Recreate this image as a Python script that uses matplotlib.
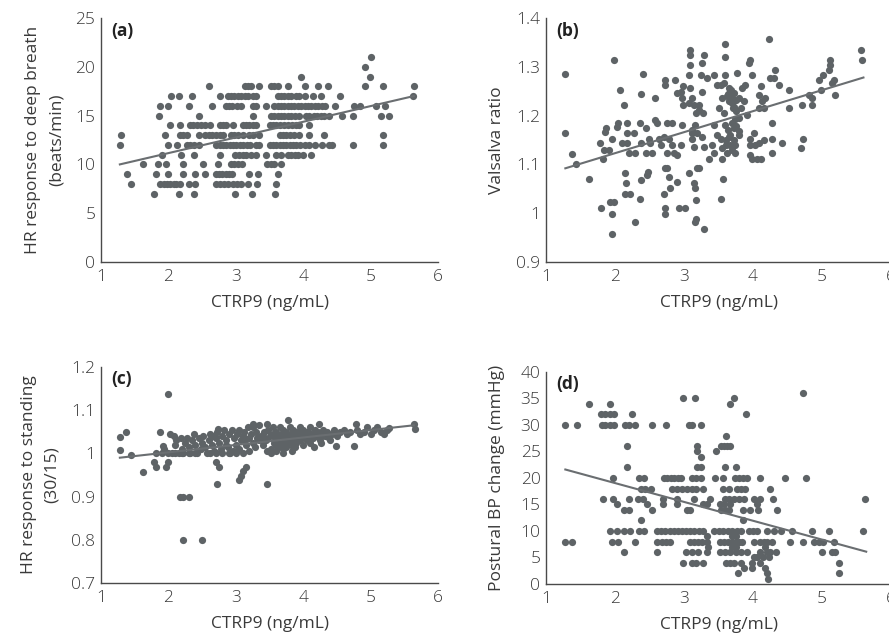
import numpy as np
import matplotlib
matplotlib.use("Agg")
import matplotlib.pyplot as plt
from matplotlib.ticker import FuncFormatter

plt.rcParams["font.family"] = ["Open Sans", "DejaVu Sans"]
plt.rcParams["font.weight"] = "light"

# (a) HR response to deep breath: integer y levels, x positions per level
a_levels = [21, 20, 19, 18, 17, 16, 15, 14, 13, 12, 11, 10, 9, 8, 7]
a_x_by_level = [
    [5.0],
    [4.92],
    [3.97, 4.99],
    [2.6, 3.13, 3.18, 3.23, 3.35, 3.52, 3.57, 3.63, 3.78, 4.03, 4.22, 4.37, 4.91, 5.19, 5.64],
    [2.04, 2.16, 2.35, 2.76, 2.88, 2.93, 2.98, 3.03, 3.08, 3.13, 3.18, 3.25, 3.3, 3.62, 3.67,
     3.72, 3.77, 3.82, 3.89, 3.94, 4.03, 4.14, 4.27, 4.54, 5.63],
    [1.87, 1.99, 2.3, 2.65, 2.85, 2.9, 2.95, 3.02, 3.08, 3.25, 3.3, 3.45, 3.57, 3.62, 3.67,
     3.72, 3.77, 3.82, 3.87, 3.92, 3.97, 4.02, 4.07, 4.12, 4.17, 4.22, 4.28, 4.33, 4.47, 4.76,
     4.85, 5.08, 5.22],
    [1.86, 2.46, 3.26, 3.52, 3.57, 3.62, 3.67, 3.72, 3.77, 3.82, 3.88, 3.94, 4.04, 4.09, 4.16,
     4.21, 4.26, 4.31, 4.38, 4.57, 4.74, 5.15, 5.27],
    [2.02, 2.17, 2.32, 2.37, 2.42, 2.48, 2.55, 2.61, 2.76, 2.81, 2.86, 2.96, 3.1, 3.15, 3.2,
     3.25, 3.3, 3.5, 3.55, 3.6, 3.66, 3.72, 3.78, 3.84, 3.89, 3.94, 4.09],
    [1.29, 1.95, 2.17, 2.22, 2.27, 2.46, 2.55, 2.6, 2.65, 2.7, 2.76, 2.81, 2.93, 2.98, 3.04,
     3.1, 3.2, 3.26, 3.35, 3.65, 3.7, 3.75, 3.8, 3.86, 3.94, 4.09, 4.31, 5.19],
    [1.28, 1.99, 2.13, 2.27, 2.32, 2.38, 2.46, 2.71, 2.76, 2.81, 2.86, 2.91, 2.96, 3.01, 3.06,
     3.11, 3.16, 3.21, 3.3, 3.35, 3.5, 3.55, 3.6, 3.65, 3.7, 3.75, 3.8, 3.85, 3.9, 3.95, 4.03,
     4.08, 4.18, 4.28, 4.38, 4.43, 4.74, 5.18],
    [1.91, 2.19, 2.38, 2.76, 2.99, 3.05, 3.1, 3.15, 3.22, 3.3, 3.45, 3.6, 3.67, 3.77, 3.82,
     3.88, 3.93, 3.99, 4.11],
    [1.63, 1.84, 1.97, 2.22, 2.51, 2.73, 2.93, 2.98, 3.03, 3.09, 3.47, 3.52, 3.57, 3.67],
    [1.38, 1.81, 1.99, 2.21, 2.39, 2.54, 2.7, 2.75, 2.8, 2.85, 2.9, 2.95, 3.2, 3.33, 3.62],
    [1.44, 1.88, 1.93, 1.98, 2.03, 2.08, 2.12, 2.17, 2.3, 2.39, 2.71, 2.76, 2.82, 2.88, 2.96,
     3.02, 3.08, 3.18, 3.32, 3.6],
    [1.79, 2.15, 2.38, 2.99, 3.24, 3.58],
]
a_fit_x = [1.28, 5.64]
a_fit_y = [10.0, 17.0]

# (b) Valsalva ratio, (CTRP9, ratio) pairs
b_points = [
    (1.28, 1.285), (1.28, 1.164), (1.38, 1.122), (1.44, 1.100), (1.62, 1.071), (1.79, 1.010),
    (1.78, 1.143), (1.84, 1.130), (1.83, 1.112), (1.86, 1.167), (1.87, 1.174), (1.93, 1.023),
    (1.96, 0.999), (1.96, 0.958), (1.98, 1.023), (1.98, 1.314), (1.96, 1.153), (1.91, 1.130),
    (2.03, 1.177), (2.04, 1.184), (2.07, 1.253), (2.13, 1.222), (2.10, 1.143), (2.14, 1.082),
    (2.16, 1.061), (2.15, 1.040), (2.22, 1.040), (2.18, 1.164), (2.18, 1.184), (2.18, 1.143),
    (2.20, 1.123), (2.29, 1.123), (2.27, 1.164), (2.29, 0.982), (2.36, 1.030), (2.37, 1.068),
    (2.36, 1.184), (2.37, 1.244), (2.41, 1.285), (2.38, 1.143), (2.45, 1.174), (2.46, 1.078),
    (2.48, 1.085), (2.45, 1.123), (2.49, 1.153), (2.54, 1.123), (2.51, 1.143), (2.58, 1.236),
    (2.58, 1.191), (2.61, 1.184), (2.63, 1.153), (2.66, 1.140), (2.71, 1.157), (2.71, 1.040),
    (2.73, 1.092), (2.73, 1.010), (2.73, 0.999), (2.73, 1.273), (2.73, 1.263), (2.75, 1.184),
    (2.75, 1.123), (2.78, 1.153), (2.75, 1.092), (2.80, 1.051), (2.78, 1.075), (2.83, 1.184),
    (2.83, 1.140), (2.85, 1.123), (2.90, 1.064), (2.87, 1.273), (2.90, 1.119), (2.92, 1.010),
    (2.95, 1.249), (2.90, 1.246), (2.99, 1.260), (2.97, 1.181), (2.95, 1.140), (2.97, 1.236),
    (2.99, 1.222), (3.02, 1.010), (3.07, 1.082), (3.09, 1.335), (3.09, 1.325), (3.08, 1.304),
    (3.07, 1.284), (3.09, 1.256), (3.07, 1.225), (3.12, 1.236), (3.12, 1.153), (3.11, 1.164),
    (3.14, 1.136), (3.14, 1.061), (3.16, 1.051), (3.18, 1.027), (3.18, 0.989), (3.16, 0.982),
    (3.19, 1.092), (3.21, 1.092), (3.16, 1.181), (3.19, 1.164), (3.21, 1.222), (3.14, 1.222),
    (3.24, 1.284), (3.26, 1.249), (3.26, 1.308), (3.29, 1.325), (3.29, 0.968), (3.29, 1.136),
    (3.26, 1.157), (3.33, 1.277), (3.36, 1.112), (3.43, 1.284), (3.41, 1.140), (3.43, 1.123),
    (3.48, 1.160), (3.48, 1.263), (3.50, 1.215), (3.53, 1.030), (3.57, 1.071), (3.55, 1.133),
    (3.55, 1.112), (3.53, 1.153), (3.53, 1.263), (3.59, 1.321), (3.60, 1.347), (3.59, 1.284),
    (3.55, 1.236), (3.60, 1.181), (3.61, 1.140), (3.62, 1.123), (3.65, 1.157), (3.65, 1.229),
    (3.65, 1.256), (3.67, 1.249), (3.69, 1.236), (3.72, 1.246), (3.72, 1.218), (3.74, 1.194),
    (3.72, 1.174), (3.72, 1.150), (3.74, 1.140), (3.74, 1.123), (3.77, 1.287), (3.79, 1.160),
    (3.79, 1.236), (3.82, 1.215), (3.84, 1.256), (3.87, 1.229), (3.89, 1.263), (3.91, 1.201),
    (3.94, 1.308), (3.96, 1.314), (3.99, 1.284), (3.96, 1.153), (3.96, 1.140), (3.96, 1.119),
    (3.99, 1.112), (4.01, 1.164), (4.03, 1.140), (4.06, 1.112), (4.08, 1.215), (4.08, 1.243),
    (4.11, 1.260), (4.08, 1.143), (4.11, 1.112), (4.13, 1.229), (4.16, 1.215), (4.16, 1.150),
    (4.18, 1.236), (4.23, 1.356), (4.25, 1.277), (4.27, 1.184), (4.27, 1.153), (4.27, 1.123),
    (4.30, 1.277), (4.32, 1.294), (4.37, 1.263), (4.42, 1.143), (4.52, 1.253), (4.52, 1.215),
    (4.69, 1.133), (4.71, 1.222), (4.73, 1.153), (4.81, 1.243), (4.86, 1.236), (4.86, 1.222),
    (4.95, 1.273), (4.98, 1.253), (5.02, 1.284), (5.10, 1.294), (5.11, 1.314), (5.12, 1.304),
    (5.14, 1.267), (5.17, 1.273), (5.19, 1.243), (5.57, 1.335), (5.58, 1.314),
    (3.62, 1.240), (3.66, 1.230), (3.70, 1.225), (3.68, 1.252), (3.64, 1.244), (3.71, 1.215),
    (3.76, 1.232), (3.58, 1.205), (3.63, 1.170), (3.69, 1.185), (3.75, 1.178), (3.67, 1.160),
    (3.80, 1.195), (3.18, 1.205), (3.22, 1.212), (3.28, 1.205), (3.12, 1.170), (3.44, 1.180),
    (3.58, 1.266), (3.66, 1.140), (3.70, 1.130), (3.61, 1.150), (3.76, 1.210), (3.80, 1.168),
]
b_fit_x = [1.28, 5.6]
b_fit_y = [1.092, 1.278]

# (c) HR response to standing (30/15), (CTRP9, ratio) pairs
c_points = [
    (1.99, 1.137), (1.28, 1.008), (1.28, 1.038), (1.37, 1.049), (1.44, 0.996), (1.63, 0.957),
    (1.79, 0.979), (1.81, 0.969), (1.97, 0.968), (1.99, 0.979), (1.87, 1.049), (1.92, 1.017),
    (1.94, 1.010), (2.17, 0.900), (2.21, 0.900), (2.31, 0.900), (2.21, 0.799), (2.50, 0.799),
    (2.72, 0.929), (2.71, 0.979), (2.75, 0.968), (3.05, 0.938), (3.08, 0.947), (3.11, 0.959),
    (3.15, 0.968), (3.47, 0.929), (4.48, 1.017), (4.75, 1.017), (3.78, 1.078), (4.78, 1.068),
    (5.64, 1.068), (5.66, 1.057), (3.25, 1.068), (3.47, 1.068), (4.24, 1.068), (2.73, 1.057),
    (1.82, 1.0), (1.90, 1.0), (2.00, 1.0), (2.10, 1.0), (2.20, 1.0), (2.30, 1.0), (2.40, 1.0),
    (2.61, 1.0), (2.70, 1.0), (2.80, 1.0), (2.90, 1.0), (3.00, 1.0), (3.10, 1.0),
    (2.02, 1.045), (2.08, 1.040), (2.05, 1.000), (2.10, 1.020), (2.12, 1.030), (2.15, 1.000),
    (2.18, 1.035), (2.20, 1.010), (2.22, 1.000), (2.25, 1.025), (2.28, 1.035), (2.30, 1.015),
    (2.32, 1.000), (2.35, 1.030), (2.38, 1.045), (2.40, 1.020), (2.42, 1.000), (2.45, 1.035),
    (2.48, 1.010), (2.50, 1.025), (2.52, 1.040), (2.55, 1.015), (2.58, 1.000), (2.60, 1.030),
    (2.62, 1.045), (2.65, 1.020), (2.68, 1.005), (2.70, 1.035), (2.72, 1.050), (2.75, 1.025),
    (2.78, 1.010), (2.80, 1.040), (2.82, 1.055), (2.85, 1.030), (2.88, 1.015), (2.90, 1.045),
    (2.92, 1.000), (2.95, 1.055), (2.97, 1.035), (3.00, 1.020), (3.02, 1.045), (3.05, 1.055),
    (3.05, 1.010), (3.08, 1.030), (3.10, 1.040), (3.12, 1.050), (3.15, 1.020), (3.18, 1.060),
    (3.20, 1.035), (3.22, 1.045), (3.25, 1.025), (3.25, 1.060), (3.28, 1.015), (3.30, 1.050),
    (3.32, 1.035), (3.35, 1.065), (3.38, 1.040), (3.40, 1.020), (3.42, 1.050), (3.45, 1.030),
    (3.48, 1.055), (3.50, 1.040), (3.52, 1.010), (3.55, 1.045), (3.55, 1.060), (3.58, 1.030),
    (3.60, 1.050), (3.60, 1.020), (3.62, 1.040), (3.65, 1.060), (3.65, 1.030), (3.68, 1.045),
    (3.70, 1.010), (3.70, 1.055), (3.72, 1.035), (3.75, 1.050), (3.75, 1.020), (3.78, 1.040),
    (3.80, 1.060), (3.80, 1.030), (3.82, 1.045), (3.85, 1.015), (3.85, 1.055), (3.88, 1.035),
    (3.90, 1.050), (3.90, 1.025), (3.92, 1.040), (3.95, 1.060), (3.95, 1.030), (3.98, 1.045),
    (4.00, 1.020), (4.00, 1.055), (4.03, 1.035), (4.05, 1.050), (4.08, 1.040), (4.10, 1.060),
    (4.10, 1.025), (4.12, 1.045), (4.15, 1.035), (4.18, 1.055), (4.20, 1.040), (4.22, 1.050),
    (4.25, 1.030), (4.28, 1.045), (4.30, 1.055), (4.32, 1.040), (4.35, 1.050), (4.38, 1.035),
    (4.42, 1.045), (4.45, 1.055), (4.50, 1.040), (4.55, 1.050), (4.60, 1.055), (4.65, 1.045),
    (4.70, 1.050), (4.80, 1.055), (4.85, 1.045), (4.90, 1.050), (4.95, 1.060), (5.00, 1.045),
    (5.05, 1.055), (5.10, 1.060), (5.15, 1.050), (5.20, 1.045), (5.25, 1.055), (5.28, 1.058),
    (3.56, 1.025), (3.62, 1.015), (3.68, 1.025), (3.74, 1.015), (3.82, 1.025), (3.88, 1.015),
    (3.58, 1.040), (3.66, 1.035), (3.72, 1.045), (3.78, 1.030), (3.86, 1.040), (3.94, 1.050),
    (3.52, 1.000), (3.60, 1.005), (3.70, 1.000), (3.84, 1.005), (3.40, 1.040), (3.46, 1.005),
    (3.34, 1.030), (3.14, 1.030), (3.20, 1.005), (2.86, 1.020), (2.96, 1.005), (2.66, 1.040),
    (4.06, 1.030), (4.16, 1.015), (4.26, 1.025), (4.40, 1.030),
]
c_fit_x = [1.28, 5.64]
c_fit_y = [0.990, 1.065]

# (d) Postural BP change (mmHg): y levels, x positions per level
d_levels = [36, 35, 34, 32, 30, 28, 26, 25, 24, 22, 20, 18, 16, 15, 14, 12, 10, 9, 8, 7,
            6, 5, 4, 3, 2, 1]
d_x_by_level = [
    [4.72],
    [2.99, 3.16, 3.72],
    [1.63, 1.92, 3.67],
    [1.79, 1.86, 1.93, 1.98, 2.24, 3.9],
    [1.28, 1.45, 1.81, 1.86, 1.93, 1.98, 2.15, 2.2, 2.29, 2.54, 2.74, 3.07, 3.12, 3.24],
    [3.61],
    [2.18, 3.19, 3.53, 3.58, 3.62, 3.66],
    [3.19, 3.47],
    [3.24],
    [2.18, 3.19, 3.24, 3.6, 3.76],
    [1.97, 2.35, 2.42, 2.71, 2.76, 2.81, 2.86, 2.91, 2.96, 3.12, 3.17, 3.24, 3.45, 3.57,
     3.74, 3.8, 3.86, 3.91, 4.1, 4.46, 4.77],
    [2.37, 2.44, 2.52, 2.82, 2.9, 2.97, 3.04, 3.12, 3.18, 3.28, 3.57, 3.65, 3.77, 3.82,
     3.88, 4.24],
    [1.83, 1.97, 2.2, 2.33, 2.4, 2.7, 2.9, 3.14, 3.38, 3.6, 3.65, 3.72, 3.79, 3.87, 4.01,
     4.1, 4.29, 5.62],
    [2.03, 2.46, 2.7, 2.9, 3.28, 3.33, 3.52, 3.58, 3.67, 4.06],
    [2.13, 2.2, 2.54, 3.04, 3.09, 3.53, 3.6, 3.65, 3.86, 3.96, 4.07, 4.35],
    [2.38, 3.86],
    [1.93, 2.03, 2.13, 2.22, 2.35, 2.42, 2.61, 2.67, 2.73, 2.79, 2.85, 2.91, 2.97, 3.03,
     3.09, 3.15, 3.21, 3.27, 3.43, 3.5, 3.57, 3.63, 3.7, 3.77, 3.82, 3.94, 4.0, 4.06, 4.2,
     4.3, 4.4, 4.57, 4.85, 5.1, 5.6],
    [3.33, 3.7, 3.75],
    [1.28, 1.38, 1.96, 2.04, 2.29, 2.61, 2.68, 2.74, 2.8, 3.09, 3.15, 3.2, 3.26, 3.33, 3.52,
     3.58, 3.63, 3.69, 3.75, 3.8, 3.84, 4.01, 4.1, 4.16, 4.2, 4.28, 4.53, 4.73, 4.88, 4.95,
     5.02, 5.17],
    [3.35, 3.7, 3.75, 4.18],
    [2.13, 2.61, 3.03, 3.12, 3.2, 3.33, 3.52, 3.6, 3.67, 3.75, 3.82, 3.91, 4.1, 4.2, 4.25,
     4.33, 5.0, 5.14, 5.19],
    [4.01, 4.06, 4.15, 4.23],
    [2.99, 3.12, 3.18, 3.28, 3.61, 3.67, 3.72, 3.82, 3.98, 4.1, 5.24],
    [3.87, 3.98, 4.18],
    [3.78, 4.2, 5.24],
    [4.21],
]
d_fit_x = [1.28, 5.64]
d_fit_y = [21.6, 6.1]

x_ticks = [1, 2, 3, 4, 5, 6]
x_label = "CTRP9 (ng/mL)"

DOT = "#5e6366"
TXT = "#3a3a3a"
SPINE = "#4a4a4a"
FS = 12.5


def flatten_levels(levels, xs_by_level):
    xs, ys = [], []
    for lvl, xs_l in zip(levels, xs_by_level):
        xs.extend(xs_l)
        ys.extend([lvl] * len(xs_l))
    return np.array(xs), np.array(ys)


def style_axes(ax, yticks, ylim):
    ax.set_xlim(1, 6)
    ax.set_ylim(*ylim)
    ax.set_xticks(x_ticks)
    ax.set_yticks(yticks)
    ax.yaxis.set_major_formatter(FuncFormatter(lambda v, p: f"{v:g}"))
    for s in ["top", "right"]:
        ax.spines[s].set_visible(False)
    for s in ["left", "bottom"]:
        ax.spines[s].set_color(SPINE)
        ax.spines[s].set_linewidth(1.0)
    ax.tick_params(length=0, labelsize=FS, colors=TXT)
    ax.tick_params(axis="x", pad=5)
    ax.tick_params(axis="y", pad=4)
    ax.set_xlabel(x_label, fontsize=FS, color=TXT, labelpad=7)


def draw(ax, x, y, fx, fy, tag):
    ax.scatter(x, y, s=27, color=DOT, linewidths=0, zorder=2, clip_on=False)
    ax.plot(fx, fy, color="#6a6e71", lw=1.5, zorder=3)
    ax.text(0.03, 0.985, tag, transform=ax.transAxes, fontsize=FS,
            fontweight="bold", color="#222222", va="top", ha="left")


fig = plt.figure(figsize=(8.89, 6.4), dpi=100)
ax_a = fig.add_axes([0.1136, 0.5906, 0.3791, 0.3813])
ax_b = fig.add_axes([0.6142, 0.5906, 0.3881, 0.3813])
ax_c = fig.add_axes([0.1136, 0.0891, 0.3791, 0.3375])
ax_d = fig.add_axes([0.6142, 0.0875, 0.3881, 0.3313])

xa, ya = flatten_levels(a_levels, a_x_by_level)
draw(ax_a, xa, ya, a_fit_x, a_fit_y, "(a)")
style_axes(ax_a, [0, 5, 10, 15, 20, 25], (0, 25))
ax_a.set_ylabel("HR response to deep breath\n(beats/min)", fontsize=FS, color=TXT,
                labelpad=8, linespacing=1.6)

bx, by = np.array(b_points).T
draw(ax_b, bx, by, b_fit_x, b_fit_y, "(b)")
style_axes(ax_b, [0.9, 1.0, 1.1, 1.2, 1.3, 1.4], (0.9, 1.4))
ax_b.set_ylabel("Valsalva ratio", fontsize=FS, color=TXT, labelpad=8)

cx, cy = np.array(c_points).T
draw(ax_c, cx, cy, c_fit_x, c_fit_y, "(c)")
style_axes(ax_c, [0.7, 0.8, 0.9, 1.0, 1.1, 1.2], (0.7, 1.2))
ax_c.set_ylabel("HR response to standing\n(30/15)", fontsize=FS, color=TXT,
                labelpad=8, linespacing=1.6)

xd, yd = flatten_levels(d_levels, d_x_by_level)
draw(ax_d, xd, yd, d_fit_x, d_fit_y, "(d)")
style_axes(ax_d, [0, 5, 10, 15, 20, 25, 30, 35, 40], (0, 40))
ax_d.set_ylabel("Postural BP change (mmHg)", fontsize=FS, color=TXT, labelpad=11)

fig.savefig("out.png", dpi=100)
